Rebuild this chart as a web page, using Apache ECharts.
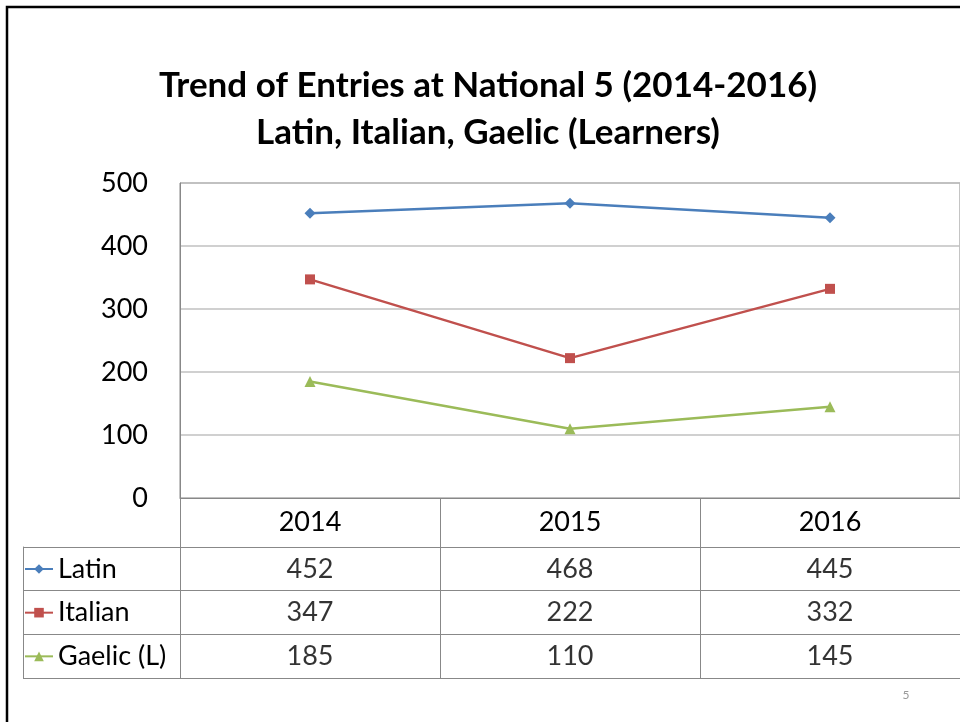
<!DOCTYPE html>
<html>
<head>
<meta charset="utf-8">
<script src="https://cdn.jsdelivr.net/npm/echarts@6/dist/echarts.min.js"></script>
<style>
html,body{margin:0;padding:0;background:#fff;}
#chart{width:960px;height:722px;}
</style>
</head>
<body>
<div id="chart"></div>
<script>
var years = ['2014', '2015', '2016'];
var seriesNames = ['Latin', 'Italian', 'Gaelic (L)'];
var latin = [452, 468, 445];
var italian = [347, 222, 332];
var gaelic = [185, 110, 145];
var yTicks = [0, 100, 200, 300, 400, 500];
var titleLines = ['Trend of Entries at National 5 (2014-2016)', 'Latin, Italian, Gaelic (Learners)'];
var pageNumber = '5';

var FONT = 'Lato';
var colors = ['#4A7EBB', '#C0504D', '#9BBB59'];
var symbols = ['diamond', 'rect', 'triangle'];
var symbolSizes = [11, 10, 11];
var allValues = [latin, italian, gaelic];

var chart = echarts.init(document.getElementById('chart'));

var lineSeries = seriesNames.map(function (name, i) {
  return {
    name: name,
    type: 'line',
    xAxisIndex: 0,
    yAxisIndex: 0,
    data: allValues[i],
    symbol: symbols[i],
    symbolSize: symbolSizes[i],
    showAllSymbol: true,
    lineStyle: { color: colors[i], width: 2.5 },
    itemStyle: { color: colors[i] },
    emphasis: { disabled: true },
    animation: false
  };
});

var tableData = [];
allValues.forEach(function (vals, r) {
  vals.forEach(function (v, c) {
    tableData.push([years[c], seriesNames[r], v]);
  });
});

var option = {
  animation: false,
  backgroundColor: '#ffffff',
  textStyle: { fontFamily: FONT },
  title: {
    text: titleLines.join('\n'),
    left: 488,
    top: 62,
    padding: 0,
    textAlign: 'center',
    textStyle: {
      fontFamily: FONT,
      fontWeight: 'bold',
      fontSize: 35,
      lineHeight: 47,
      color: '#000'
    }
  },
  legend: {
    orient: 'vertical',
    left: 24,
    top: 554,
    padding: 0,
    itemGap: 13.67,
    itemWidth: 28,
    itemHeight: 12,
    selectedMode: false,
    data: seriesNames,
    textStyle: { fontFamily: FONT, fontSize: 27, color: '#000', lineHeight: 30 }
  },
  grid: [
    { left: 180, right: -1, top: 183, height: 315, show: true, borderColor: '#888', borderWidth: 1, containLabel: false },
    { left: 180, right: -1, top: 547, height: 131, containLabel: false }
  ],
  xAxis: [
    {
      type: 'category',
      gridIndex: 0,
      data: years,
      boundaryGap: true,
      axisLine: { show: true, lineStyle: { color: '#888', width: 1 } },
      axisTick: { show: true, alignWithLabel: false, length: 49, lineStyle: { color: '#888', width: 1 } },
      axisLabel: { fontFamily: FONT, fontSize: 27, color: '#000', margin: 11 },
      splitLine: { show: false }
    },
    {
      type: 'category',
      gridIndex: 1,
      data: years,
      boundaryGap: true,
      axisLine: { show: false },
      axisTick: { show: false },
      axisLabel: { show: false },
      splitLine: { show: true, lineStyle: { color: '#888', width: 1 } }
    }
  ],
  yAxis: [
    {
      type: 'value',
      gridIndex: 0,
      min: yTicks[0],
      max: yTicks[yTicks.length - 1],
      interval: 100,
      axisLine: { show: true, lineStyle: { color: '#888', width: 1 } },
      axisTick: { show: false },
      axisLabel: { fontFamily: FONT, fontSize: 27, color: '#000', margin: 32 },
      splitLine: { show: true, lineStyle: { color: '#c0c0c0', width: 1.5 } }
    },
    {
      type: 'category',
      gridIndex: 1,
      data: seriesNames,
      inverse: true,
      boundaryGap: true,
      axisLine: { show: true, lineStyle: { color: '#888', width: 1 } },
      axisTick: { show: true, alignWithLabel: false, length: 157, lineStyle: { color: '#888', width: 1 } },
      axisLabel: { show: false },
      splitLine: { show: true, lineStyle: { color: '#888', width: 1 } }
    },
    {
      type: 'category',
      gridIndex: 1,
      data: seriesNames,
      inverse: true,
      position: 'left',
      offset: 157,
      axisLine: { show: true, lineStyle: { color: '#888', width: 1 } },
      axisTick: { show: false },
      axisLabel: { show: false },
      splitLine: { show: false }
    }
  ],
  series: lineSeries.concat([
    {
      type: 'scatter',
      name: 'table',
      xAxisIndex: 1,
      yAxisIndex: 1,
      data: tableData,
      symbolSize: 0,
      silent: true,
      label: {
        show: true,
        position: 'inside',
        fontFamily: FONT,
        fontSize: 27,
        color: '#000',
        formatter: function (p) { return String(p.value[2]); }
      },
      animation: false
    }
  ]),
  graphic: [
    {
      type: 'rect',
      silent: true,
      shape: { x: 7, y: 7, width: 1100, height: 900 },
      style: { fill: 'none', stroke: '#000', lineWidth: 2.5 }
    },
    {
      type: 'text',
      silent: true,
      x: 906,
      y: 695,
      style: { text: pageNumber, fill: '#999', fontFamily: FONT, fontSize: 12, align: 'center', verticalAlign: 'middle' }
    }
  ]
};

chart.setOption(option);
</script>
</body>
</html>
